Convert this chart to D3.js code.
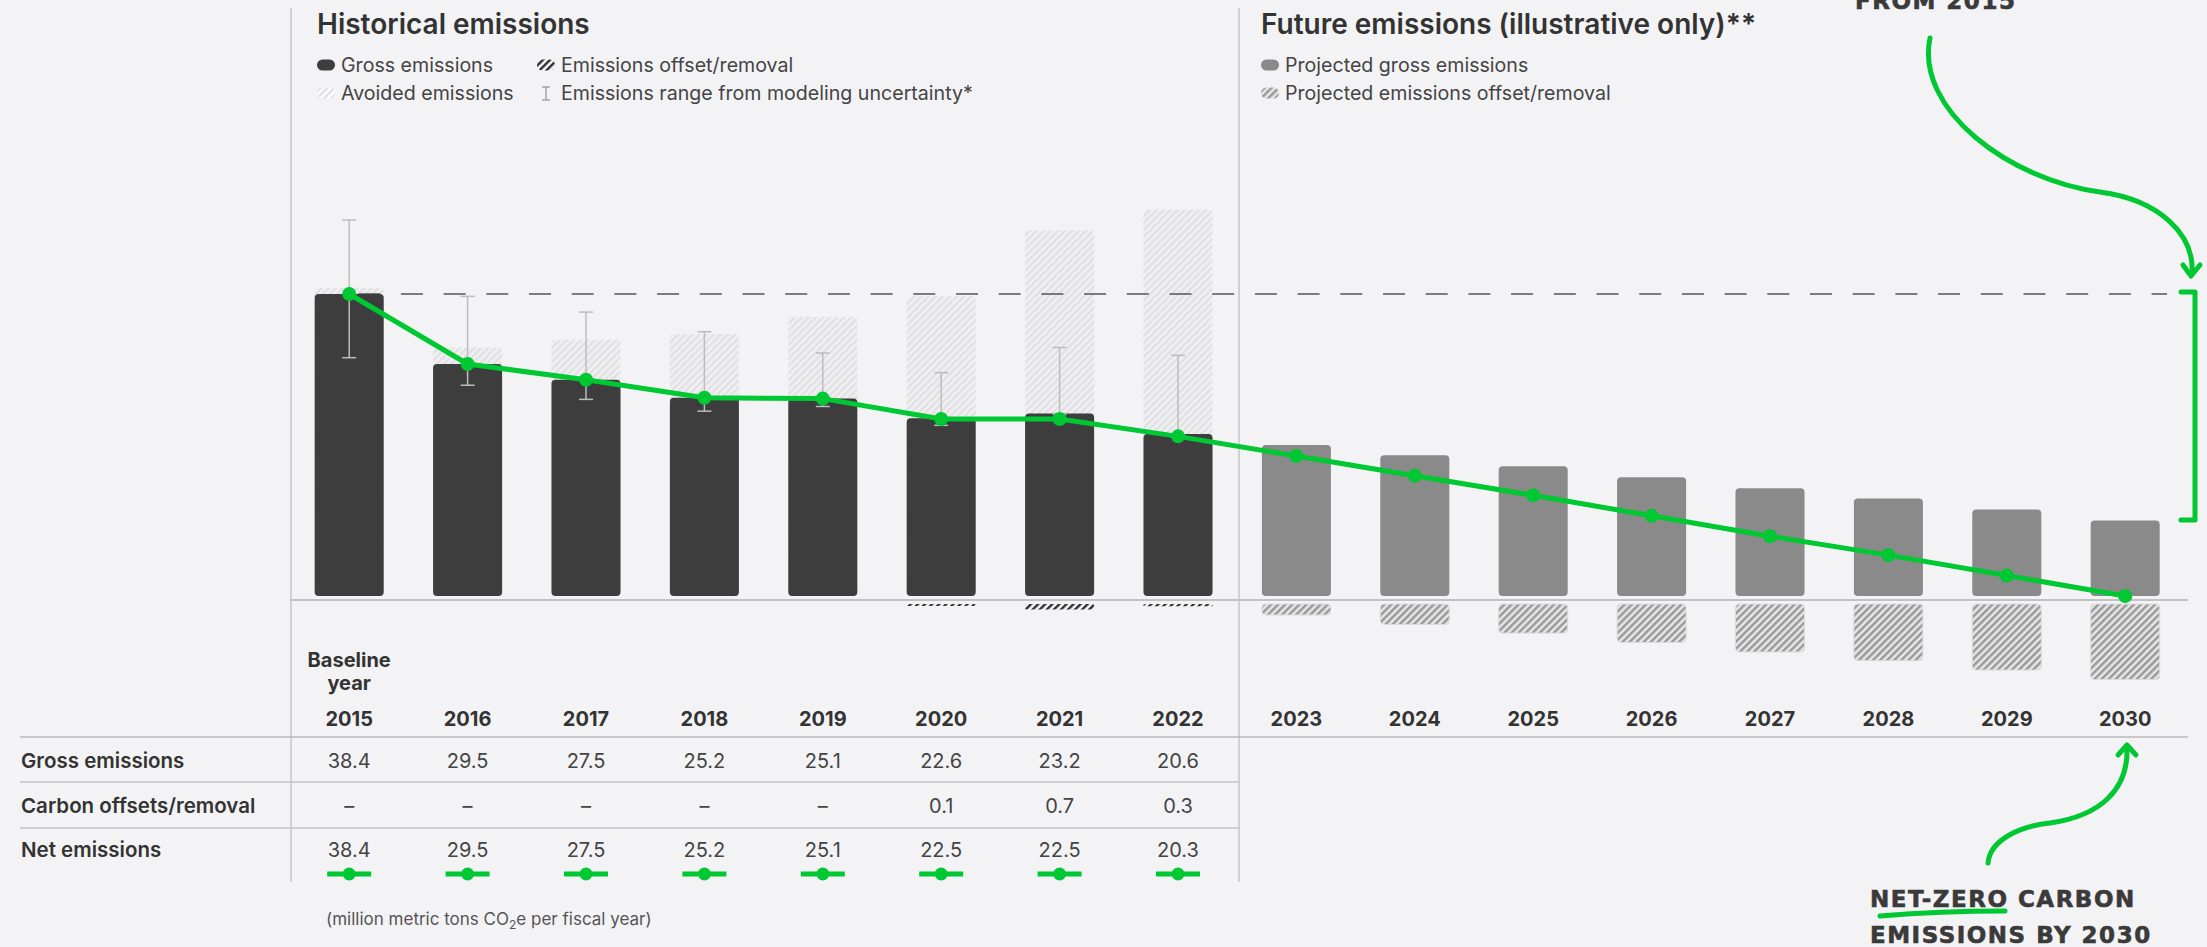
<!DOCTYPE html>
<html lang="en">
<head>
<meta charset="UTF-8" />
<title>Emissions chart</title>
<script src="https://d3js.org/d3.v7.min.js"></script>
<style>
  body { margin: 0; background: #f3f3f5; }
  svg { display: block; font-family: Inter, "Noto Sans", sans-serif; }
  .title { font-size: 28px; font-weight: 600; fill: #333; }
  .legend { font-size: 19.6px; fill: #444; }
  .year { font-size: 20px; font-weight: 700; fill: #333; text-anchor: middle; }
  .rowlabel { font-size: 20.5px; font-weight: 600; fill: #333; }
  .cell { font-size: 20px; fill: #444; text-anchor: middle; }
  .hand { font-family: "DejaVu Sans", sans-serif; font-weight: bold; font-size: 23px; letter-spacing: 1.5px; fill: #3a3a3a; stroke: #3a3a3a; stroke-width: 0.6; }
</style>
</head>
<body>
<svg width="2207" height="947"></svg>
<script>
const histYears = ["2015", "2016", "2017", "2018", "2019", "2020", "2021", "2022"];
const futureYears = ["2023", "2024", "2025", "2026", "2027", "2028", "2029", "2030"];
const grossHist = [38.4, 29.5, 27.5, 25.2, 25.1, 22.6, 23.2, 20.6];
const offsetHist = [0, 0, 0, 0, 0, 0.1, 0.7, 0.3];
const netHist = [38.4, 29.5, 27.5, 25.2, 25.1, 22.5, 22.5, 20.3];
const avoidedHist = [0.8, 2.1, 5.1, 8.1, 10.4, 15.5, 23.3, 28.5];
const rangeLow = [30.3, 26.8, 25.0, 23.5, 24.1, 21.7, 23.1, 20.5];
const rangeHigh = [47.8, 38.1, 36.1, 33.6, 30.9, 28.4, 31.6, 30.6];
const grossFuture = [19.2, 17.9, 16.5, 15.1, 13.7, 12.4, 11.0, 9.6];
const offsetFuture = [1.4, 2.6, 3.7, 4.9, 6.1, 7.2, 8.4, 9.6];

const years = histYears.concat(futureYears);
const green = "#00c832";
const svg = d3.select("svg");

const x = d3.scaleBand()
    .domain(years)
    .range([290, 2184.4])
    .paddingInner(0.417)
    .paddingOuter(0.2085);
const bw = x.bandwidth();
const cx = yr => x(yr) + bw / 2;

const y = d3.scaleLinear().domain([0, 38.4]).range([596, 294]);
const negTop = 604; // offset bars hang below the zero line
const h = v => y(0) - y(v);

svg.append("rect").attr("width", 2207).attr("height", 947).attr("fill", "#f3f3f5");

// hatch patterns
const defs = svg.append("defs");
function hatch(id, bg, fg, size) {
    const p = defs.append("pattern")
        .attr("id", id)
        .attr("patternUnits", "userSpaceOnUse")
        .attr("width", size)
        .attr("height", size)
        .attr("patternTransform", "rotate(45)");
    p.append("rect").attr("width", size).attr("height", size).attr("fill", bg);
    p.append("rect").attr("width", size / 2).attr("height", size).attr("fill", fg);
}
hatch("avoided", "#f1f1f3", "#e1e1e3", 5);
hatch("avoidedKey", "#e0e0e2", "#ffffff", 5);
hatch("offHist", "#ffffff", "#2f2f2f", 5);
hatch("offFuture", "#e8e8e8", "#999999", 5);

const hist = histYears.map((yr, i) => ({
    yr, gross: grossHist[i], off: offsetHist[i], net: netHist[i],
    avoided: avoidedHist[i], lo: rangeLow[i], hi: rangeHigh[i]
}));
const future = futureYears.map((yr, i) => ({
    yr, gross: grossFuture[i], off: offsetFuture[i], net: grossFuture[i] - offsetFuture[i]
}));

// avoided emissions (behind gross)
svg.selectAll(".avoided")
    .data(hist)
    .enter()
    .append("rect")
    .attr("class", "avoided")
    .attr("x", d => x(d.yr))
    .attr("width", bw)
    .attr("y", d => y(d.gross + d.avoided))
    .attr("height", d => y(0) - y(d.gross + d.avoided))
    .attr("rx", 4)
    .attr("fill", "url(#avoided)");

// 2015 baseline reference
svg.append("line")
    .attr("x1", cx("2015") + 9)
    .attr("x2", 2167)
    .attr("y1", y(grossHist[0]))
    .attr("y2", y(grossHist[0]))
    .attr("stroke", "#555")
    .attr("stroke-width", 1.6)
    .attr("stroke-dasharray", "22 20.7");

// gross bars
svg.selectAll(".gross")
    .data(hist.concat(future))
    .enter()
    .append("rect")
    .attr("class", "gross")
    .attr("x", d => x(d.yr))
    .attr("width", bw)
    .attr("y", d => y(d.gross))
    .attr("height", d => h(d.gross))
    .attr("rx", 4)
    .attr("fill", d => histYears.includes(d.yr) ? "#3d3d3d" : "#8a8a8a");

// offsets / removal below zero
svg.selectAll(".offHist")
    .data(hist.filter(d => d.off > 0))
    .enter()
    .append("rect")
    .attr("x", d => x(d.yr))
    .attr("width", bw)
    .attr("y", negTop)
    .attr("height", d => Math.max(h(d.off), 2))
    .attr("rx", 1.5)
    .attr("fill", "url(#offHist)");

svg.selectAll(".offFuture")
    .data(future)
    .enter()
    .append("rect")
    .attr("x", d => x(d.yr))
    .attr("width", bw)
    .attr("y", negTop)
    .attr("height", d => h(d.off))
    .attr("rx", 4)
    .attr("fill", "url(#offFuture)")
    .attr("stroke", "#dcdcdc")
    .attr("stroke-width", 1);

// modeling uncertainty ranges
const eb = svg.selectAll(".err").data(hist).enter().append("g").attr("stroke", "#bdbdbd").attr("stroke-width", 1.5);
eb.append("line").attr("x1", d => cx(d.yr)).attr("x2", d => cx(d.yr)).attr("y1", d => y(d.hi)).attr("y2", d => y(d.lo));
eb.append("line").attr("x1", d => cx(d.yr) - 7).attr("x2", d => cx(d.yr) + 7).attr("y1", d => y(d.hi)).attr("y2", d => y(d.hi));
eb.append("line").attr("x1", d => cx(d.yr) - 7).attr("x2", d => cx(d.yr) + 7).attr("y1", d => y(d.lo)).attr("y2", d => y(d.lo));

// frame lines
svg.append("line").attr("x1", 290).attr("x2", 2188).attr("y1", 600).attr("y2", 600).attr("stroke", "#c2c2c4").attr("stroke-width", 2);
[291, 1239].forEach(xx => {
    svg.append("line").attr("x1", xx).attr("x2", xx).attr("y1", 8).attr("y2", 882).attr("stroke", "#c6c6c8").attr("stroke-width", 1.5);
});

// net emissions line
const net = hist.concat(future);
svg.append("path")
    .datum(net)
    .attr("fill", "none")
    .attr("stroke", green)
    .attr("stroke-width", 5)
    .attr("stroke-linejoin", "round")
    .attr("d", d3.line().x(d => cx(d.yr)).y(d => y(d.net)));
svg.selectAll(".dot")
    .data(net)
    .enter()
    .append("circle")
    .attr("cx", d => cx(d.yr))
    .attr("cy", d => y(d.net))
    .attr("r", 7)
    .attr("fill", green);

// titles and legends
svg.append("text").attr("class", "title").attr("x", 317).attr("y", 34).text("Historical emissions");
svg.append("text").attr("class", "title").attr("x", 1261).attr("y", 34).text("Future emissions (illustrative only)**");

function key(xx, yy, fill, label) {
    svg.append("rect").attr("x", xx).attr("y", yy - 5.5).attr("width", 18).attr("height", 11).attr("rx", 5.5).attr("fill", fill);
    svg.append("text").attr("class", "legend").attr("x", xx + 24).attr("y", yy + 7).text(label);
}
key(317, 65, "#3d3d3d", "Gross emissions");
key(317, 93, "url(#avoidedKey)", "Avoided emissions");
key(537, 65, "url(#offHist)", "Emissions offset/removal");
key(1261, 65, "#8a8a8a", "Projected gross emissions");
key(1261, 93, "url(#offFuture)", "Projected emissions offset/removal");
const rk = svg.append("g").attr("stroke", "#999").attr("stroke-width", 1.3);
rk.append("line").attr("x1", 546).attr("x2", 546).attr("y1", 87).attr("y2", 100);
rk.append("line").attr("x1", 542).attr("x2", 550).attr("y1", 87).attr("y2", 87);
rk.append("line").attr("x1", 542).attr("x2", 550).attr("y1", 100).attr("y2", 100);
svg.append("text").attr("class", "legend").attr("x", 561).attr("y", 100).text("Emissions range from modeling uncertainty*");

// table
svg.append("text").attr("class", "year").attr("x", cx("2015")).attr("y", 667).text("Baseline");
svg.append("text").attr("class", "year").attr("x", cx("2015")).attr("y", 690).text("year");
svg.selectAll(".year-lbl")
    .data(years)
    .enter()
    .append("text")
    .attr("class", "year")
    .attr("x", d => cx(d))
    .attr("y", 726)
    .text(d => d);

svg.append("line").attr("x1", 20).attr("x2", 2188).attr("y1", 737).attr("y2", 737).attr("stroke", "#b8b8ba").attr("stroke-width", 1.5);
[782, 828].forEach(yy => {
    svg.append("line").attr("x1", 20).attr("x2", 1239).attr("y1", yy).attr("y2", yy).attr("stroke", "#c4c4c6").attr("stroke-width", 1.5);
});

const rows = [
    { label: "Gross emissions", y: 768, vals: grossHist.map(v => v.toFixed(1)) },
    { label: "Carbon offsets/removal", y: 813, vals: offsetHist.map(v => v > 0 ? v.toFixed(1) : "–") },
    { label: "Net emissions", y: 857, vals: netHist.map(v => v.toFixed(1)) }
];
rows.forEach(r => {
    svg.append("text").attr("class", "rowlabel").attr("x", 21).attr("y", r.y).text(r.label);
    svg.selectAll(null)
        .data(r.vals)
        .enter()
        .append("text")
        .attr("class", "cell")
        .attr("x", (d, i) => cx(histYears[i]))
        .attr("y", r.y)
        .attr("fill", d => d === "–" ? "#777" : null)
        .text(d => d);
});

// net legend glyphs under the table
const ng = svg.selectAll(".netkey").data(histYears).enter().append("g");
ng.append("line")
    .attr("x1", d => cx(d) - 22).attr("x2", d => cx(d) + 22)
    .attr("y1", 874).attr("y2", 874)
    .attr("stroke", green).attr("stroke-width", 5);
ng.append("circle").attr("cx", d => cx(d)).attr("cy", 874).attr("r", 6.5).attr("fill", green);

const foot = svg.append("text").attr("x", 326).attr("y", 925).attr("font-size", 17).attr("fill", "#555");
foot.append("tspan").text("(million metric tons CO");
foot.append("tspan").attr("font-size", 12).attr("dy", 4).text("2");
foot.append("tspan").attr("dy", -4).text("e per fiscal year)");

// hand-drawn annotations
const ann = svg.append("g").attr("fill", "none").attr("stroke", green).attr("stroke-width", 5).attr("stroke-linecap", "round").attr("stroke-linejoin", "round");
ann.append("path").attr("d", "M1930,38 C1915,110 2010,180 2100,192 C2160,200 2195,235 2192,274");
ann.append("path").attr("d", "M2183,265 L2191,276 L2200,265");
ann.append("path").attr("d", "M2181,292 L2195,292 L2195,520 L2181,520");
ann.append("path").attr("d", "M1988,863 C1990,840 2020,826 2050,823 C2100,816 2128,790 2127,749");
ann.append("path").attr("d", "M2118,755 L2127,745 L2136,755");
ann.append("path").attr("d", "M1880,916 Q1940,911 2005,911");

svg.append("text").attr("class", "hand").attr("x", 1855).attr("y", 9).text("FROM 2015");
svg.append("text").attr("class", "hand").attr("x", 1870).attr("y", 907).text("NET-ZERO CARBON");
svg.append("text").attr("class", "hand").attr("x", 1870).attr("y", 943).text("EMISSIONS BY 2030");
</script>
</body>
</html>
